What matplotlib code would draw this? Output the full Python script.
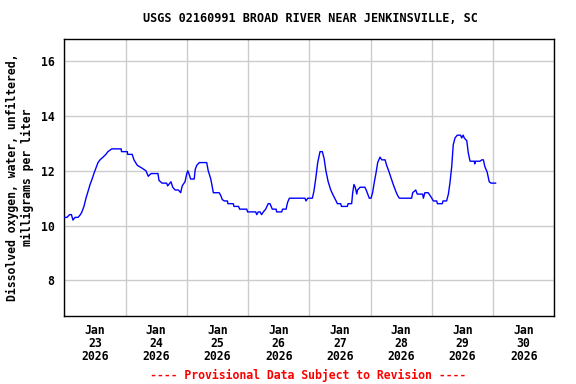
import matplotlib
matplotlib.use("Agg")
import matplotlib.pyplot as plt

title = "USGS 02160991 BROAD RIVER NEAR JENKINSVILLE, SC"
ylabel = "Dissolved oxygen, water, unfiltered,\nmilligrams per liter"
footer = "---- Provisional Data Subject to Revision ----"

# hours since Jan 23 2026 00:00
hours = [0, 1.06, 2.04, 2.8, 3.4, 4.2, 5.4, 6.3, 6.9, 7.7, 8.5, 9.3, 10.1, 10.9, 11.6,
         12.4, 13.2, 14.0, 15.2, 16.3, 17.1, 18.6, 22.3, 22.4, 24.7, 24.8, 26.6, 27.3,
         28.6, 30.4, 32.0, 32.9, 34.0, 36.7, 37.1, 38.3, 40.1, 40.5, 41.8, 42.5, 43.4,
         44.7, 45.6, 46.2, 47.3, 48.0, 48.4, 49.0, 49.5, 50.9, 51.3, 51.9, 52.9, 55.8,
         56.4, 57.4, 58.1, 58.4, 60.7, 61.3, 61.9, 62.7, 63.9, 64.1, 66.2, 66.5, 68.3,
         68.7, 71.5, 71.8, 75.0, 75.4, 76.0, 76.7, 77.3, 78.0, 78.9, 79.9, 80.6, 81.5,
         83.0, 83.2, 85.2, 85.5, 86.9, 87.5, 88.2, 94.3, 94.7, 95.4, 97.2, 97.8, 98.5,
         99.3, 100.2, 101.1, 101.8, 102.5, 103.4, 104.4, 105.4, 106.5, 107.0, 108.3,
         108.6, 110.9, 111.2, 112.6, 113.0, 113.5, 114.0, 114.6, 114.9, 115.9, 117.8,
         118.5, 119.5, 120.2, 120.8, 121.5, 122.1, 122.8, 123.7, 124.4, 125.7, 126.3,
         127.1, 128.0, 128.9, 129.9, 130.6, 131.3, 136.1, 136.5, 137.7, 138.3, 140.4,
         140.7, 141.3, 142.6, 143.3, 144.0, 144.6, 145.9, 146.2, 148.1, 148.4, 149.8,
         150.5, 151.1, 151.8, 152.4, 153.1, 154.0, 155.3, 155.7, 156.3, 156.7, 157.7,
         158.3, 159.0, 160.7, 160.8, 161.1, 162.9, 163.6, 164.2, 164.8, 165.7, 166.5,
         167.2, 169.0]
do_mgl = [10.3, 10.3, 10.4, 10.4, 10.2, 10.3, 10.3, 10.4, 10.5, 10.7, 11.0, 11.25, 11.5,
          11.7, 11.9, 12.1, 12.3, 12.4, 12.5, 12.6, 12.7, 12.8, 12.8, 12.7, 12.7, 12.6,
          12.6, 12.4, 12.2, 12.1, 12.0, 11.8, 11.9, 11.9, 11.65, 11.55, 11.55, 11.45,
          11.6, 11.4, 11.3, 11.3, 11.2, 11.45, 11.6, 11.9, 12.0, 11.85, 11.7, 11.7,
          12.05, 12.2, 12.3, 12.3, 12.0, 11.7, 11.35, 11.2, 11.2, 11.1, 10.95, 10.9,
          10.9, 10.8, 10.8, 10.7, 10.7, 10.6, 10.6, 10.5, 10.5, 10.4, 10.5, 10.5, 10.4,
          10.5, 10.6, 10.8, 10.8, 10.6, 10.6, 10.5, 10.5, 10.6, 10.6, 10.85, 11.0, 11.0,
          10.9, 11.0, 11.0, 11.25, 11.7, 12.3, 12.7, 12.7, 12.45, 12.0, 11.6, 11.3, 11.1,
          10.9, 10.8, 10.8, 10.7, 10.7, 10.8, 10.8, 11.2, 11.5, 11.4, 11.15, 11.3, 11.4,
          11.4, 11.25, 11.0, 11.0, 11.2, 11.6, 11.9, 12.3, 12.5, 12.4, 12.4, 12.2, 12.0,
          11.75, 11.5, 11.25, 11.1, 11.0, 11.0, 11.2, 11.3, 11.15, 11.15, 11.0, 11.2,
          11.2, 11.1, 11.0, 10.9, 10.9, 10.8, 10.8, 10.9, 10.9, 11.15, 11.55, 12.15,
          12.95, 13.2, 13.3, 13.3, 13.2, 13.3, 13.2, 13.1, 12.65, 12.35, 12.35, 12.25,
          12.35, 12.35, 12.4, 12.4, 12.15, 11.95, 11.6, 11.55, 11.55]

day_labels = ["Jan\n23\n2026", "Jan\n24\n2026", "Jan\n25\n2026", "Jan\n26\n2026",
              "Jan\n27\n2026", "Jan\n28\n2026", "Jan\n29\n2026", "Jan\n30\n2026"]
y_ticks = [8, 10, 12, 14, 16]

mono = "DejaVu Sans Mono"

fig = plt.figure(figsize=(5.76, 3.84), dpi=100)
ax = fig.add_axes([64.3 / 576, 1 - 316 / 384, (554.3 - 64.3) / 576, (316 - 39.3) / 384])

ax.plot(hours, do_mgl, color="#0000ff", linewidth=1.0, zorder=3)

ndays = len(day_labels)
ax.set_xlim(0, 24 * ndays)
ax.set_ylim(6.7, 16.8)

ax.set_xticks([24 * i for i in range(ndays + 1)])
ax.set_xticklabels([])
ax.set_xticks([24 * i + 12 for i in range(ndays)], minor=True)
ax.set_xticklabels(day_labels, minor=True, fontfamily=mono, fontweight="bold",
                   fontsize=8.3, linespacing=1.0)
ax.tick_params(axis="x", which="both", length=0, pad=6)
ax.set_yticks(y_ticks)
ax.set_yticklabels([str(v) for v in y_ticks], fontfamily=mono, fontweight="bold",
                   fontsize=8.3)
ax.tick_params(axis="y", length=0, pad=7)

ax.grid(True, which="major", color="#cccccc", linewidth=1.0)
ax.set_axisbelow(True)
for s in ax.spines.values():
    s.set_color("black")
    s.set_linewidth(1.0)

ax.set_ylabel(ylabel, fontfamily=mono, fontweight="bold", fontsize=8.3,
              linespacing=1.2, labelpad=5)

fig.text(310 / 576, 1 - 19 / 384, title, ha="center", va="center",
         fontfamily=mono, fontweight="bold", fontsize=8.5)
fig.text(308 / 576, 1 - 375 / 384, footer, ha="center", va="center",
         fontfamily=mono, fontweight="bold", fontsize=8.3, color="red")

fig.savefig("out.png", dpi=100)
